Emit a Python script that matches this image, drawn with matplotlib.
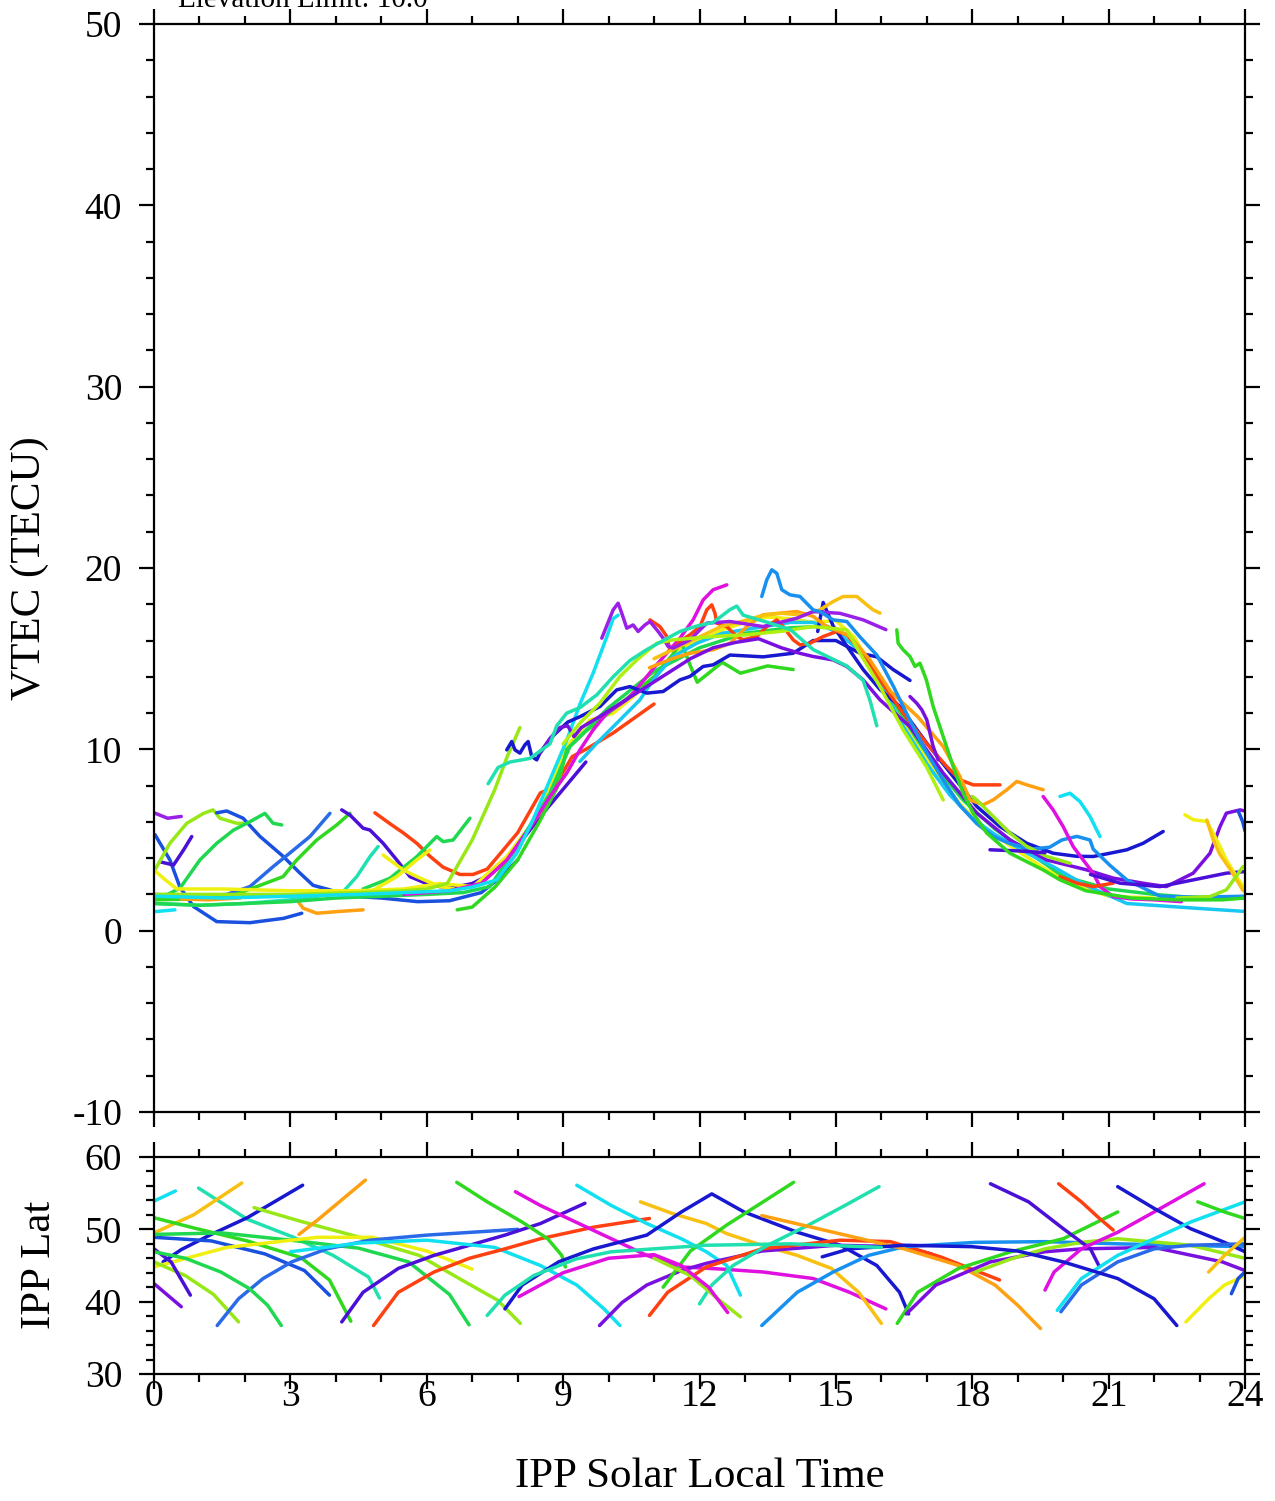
import matplotlib
matplotlib.use("Agg")
import matplotlib.pyplot as plt
from matplotlib.ticker import MultipleLocator

plt.rcParams['font.family'] = ['Liberation Serif', 'DejaVu Serif']
plt.rcParams['axes.unicode_minus'] = False

# ---------------- colours ----------------
DB = '#1818d0'; IND = '#4a10d8'; VIO = '#7a10e0'; PUR = '#9a20e8'; MAG = '#e010e0'
BLU = '#1a50e0'; BLU2 = '#2a6ae8'; AZ = '#1890f0'; CY = '#10e0f0'; CY2 = '#18c8f0'
AQ = '#20e0b0'; SG = '#20d850'; GR = '#30d820'; CH = '#98e818'; CH2 = '#b0f010'
YE = '#f0f010'; GO = '#f8c010'; OR = '#ffa010'; RO = '#ff4010'

# ---------------- labels ----------------
title_text = "Elevation Limit: 10.0"
vtec_label = "VTEC (TECU)"
lat_label = "IPP Lat"
x_label = "IPP Solar Local Time"
x_ticks = [0, 3, 6, 9, 12, 15, 18, 21, 24]
vtec_ticks = [-10, 0, 10, 20, 30, 40, 50]
lat_ticks = [30, 40, 50, 60]

# ---------------- VTEC tracks (hour, TECU) ----------------
t01_h = [0.0, 0.3, 0.6]; t01_v = [6.5, 6.2, 6.3]
t02_h = [0.02, 0.35, 0.57, 0.87, 1.38, 2.11, 2.85, 3.25]; t02_v = [5.3, 3.9, 2.4, 1.33, 0.5, 0.44, 0.68, 0.96]
t03_h = [0.13, 0.43, 0.65, 0.83]; t03_v = [3.8, 3.62, 4.45, 5.19]
t04_h = [0.02, 0.35, 0.72, 1.09, 1.3, 1.45, 1.82, 1.97]; t04_v = [3.35, 4.82, 5.92, 6.47, 6.66, 6.2, 5.92, 5.92]
t05_h = [1.38, 1.6, 1.96, 2.33, 2.84, 3.2, 3.5, 3.87, 4.3, 5.0, 5.8, 6.5, 7.2, 7.6, 8.0]
t05_v = [6.5, 6.6, 6.2, 5.2, 4.1, 3.2, 2.5, 2.25, 1.9, 1.8, 1.6, 1.65, 2.1, 2.9, 3.9]
t06_h = [0.0, 0.3, 0.57, 1.01, 1.38, 1.75, 2.11, 2.44, 2.62, 2.81]; t06_v = [1.9, 2.0, 2.34, 3.9, 4.82, 5.55, 6.01, 6.47, 5.92, 5.83]
t07_h = [0.0, 1.0, 1.6, 2.11, 2.62, 3.07, 3.43, 3.87]; t07_v = [2.0, 1.9, 2.0, 2.43, 3.53, 4.45, 5.19, 6.47]
t08_h = [0.0, 1.0, 1.8, 2.26, 2.84, 3.14, 3.58, 4.02, 4.31]; t08_v = [1.7, 1.75, 2.0, 2.43, 2.98, 3.9, 5.0, 5.83, 6.47]
t09_h = [4.13, 4.31, 4.6, 4.75, 5.04, 5.34, 5.63, 6.07, 6.51, 7.0, 7.4, 7.77, 8.1, 8.5, 9.0, 9.5]
t09_v = [6.66, 6.38, 5.65, 5.55, 4.82, 3.9, 2.98, 2.52, 2.34, 2.6, 3.1, 3.9, 5.0, 6.3, 7.8, 9.3]
t10_h = [4.86, 5.19, 5.48, 5.79, 6.07, 6.36, 6.73, 7.02, 7.33, 7.6, 8.0, 8.5, 8.8, 9.2, 9.5, 10.1, 11.0]
t10_v = [6.5, 5.9, 5.4, 4.8, 4.1, 3.5, 3.1, 3.1, 3.4, 4.2, 5.4, 7.6, 7.9, 9.6, 10.0, 10.9, 12.5]
t11_h = [0.0, 1.0, 2.0, 3.0, 3.6, 4.16, 4.46, 4.75, 4.93]; t11_v = [1.5, 1.4, 1.5, 1.7, 1.9, 2.15, 2.98, 4.08, 4.64]
t12_h = [4.6, 5.19, 5.78, 6.22, 6.36, 6.58, 6.95]; t12_v = [2.3, 2.89, 4.08, 5.19, 4.91, 5.0, 6.2]
t13_h = [0.02, 0.46]; t13_v = [1.05, 1.15]
t14_h = [3.17, 3.28, 3.58, 4.02, 4.6]; t14_v = [1.6, 1.24, 0.96, 1.05, 1.15]
t15_h = [0.6, 1.2, 1.9]; t15_v = [1.75, 1.7, 1.8]
t16_h = [0.02, 0.25, 0.5, 1.5, 3.0, 4.5, 5.5, 6.29, 7.02, 7.76, 8.49, 9.08, 9.59, 10.1, 10.54, 11.0, 11.5, 12.0,
         12.5, 13.0, 13.5, 14.0, 14.5, 15.0, 15.4, 15.8, 16.3, 16.8, 17.3, 17.8, 18.3, 19.0, 19.6, 20.3, 21.0, 22.0]
t16_v = [3.3, 2.8, 2.3, 2.3, 2.2, 2.2, 2.3, 2.6, 2.43, 4.09, 6.48, 10.16, 11.62, 11.99, 12.91, 14.0, 15.4, 16.0,
         16.6, 17.0, 17.3, 17.2, 17.0, 17.1, 16.2, 14.5, 12.5, 10.2, 8.3, 6.8, 5.6, 4.4, 3.4, 2.5, 1.9, 1.8]
t17_h = [5.04, 5.48, 5.78, 6.29, 6.6]; t17_v = [4.17, 3.35, 2.98, 2.43, 2.3]
t18_h = [4.8, 5.34, 5.78, 6.07]; t18_v = [2.2, 2.98, 3.9, 4.45]
t19_h = [0.0, 1.5, 3.0, 4.5, 5.5, 6.0, 6.45, 7.0, 7.5, 7.77, 8.05]; t19_v = [2.0, 2.0, 2.0, 2.1, 2.2, 2.3, 2.6, 5.0, 7.8, 9.6, 11.2]
t20_h = [6.67, 7.0, 7.5, 8.0, 8.5, 8.87, 9.08, 9.5, 10.0, 10.5, 11.0, 11.4, 11.6, 11.8, 11.95, 12.2, 12.5, 12.9, 13.5, 14.06]
t20_v = [1.15, 1.3, 2.4, 3.9, 6.1, 7.9, 10.0, 11.0, 12.0, 13.0, 14.0, 15.2, 15.9, 14.6, 13.7, 14.2, 14.8, 14.2, 14.6, 14.4]
t21_h = [0.0, 1.0, 2.0, 3.0, 4.0, 5.0, 6.0, 6.8, 7.39, 8.12, 8.71, 9.15, 10.0, 11.0, 12.0, 13.0, 14.0, 14.8, 15.3,
         15.8, 16.3, 16.8, 17.3, 17.8, 18.5, 19.3, 20.0, 21.0, 22.0, 23.0, 24.0]
t21_v = [1.5, 1.4, 1.5, 1.6, 1.8, 1.9, 2.0, 2.1, 2.43, 5.19, 7.58, 10.16, 12.3, 14.3, 15.6, 16.4, 16.7, 16.8, 16.2,
         14.6, 12.5, 10.5, 8.7, 7.2, 5.6, 4.2, 3.0, 2.3, 2.0, 1.8, 1.8]
t22_h = [5.5, 6.5, 7.2, 7.76, 8.34, 8.71, 9.08, 9.37, 9.66, 9.96, 10.4, 10.54, 11.0, 11.57, 11.86, 12.08, 12.3, 12.6]
t22_v = [2.0, 2.2, 2.6, 3.9, 5.93, 7.4, 8.69, 9.97, 11.07, 11.99, 12.73, 13.1, 14.5, 16.13, 17.14, 18.24, 18.8, 19.07]
t23_h = [0.0, 1.5, 3.0, 4.5, 5.5, 6.5, 7.0, 7.54, 7.98, 8.34, 8.71, 9.08, 9.37, 9.66, 9.96, 10.1, 10.21]
t23_v = [1.9, 1.8, 1.9, 2.0, 2.1, 2.2, 2.4, 2.8, 4.27, 6.12, 8.32, 10.5, 12.5, 14.2, 16.2, 17.2, 17.4]
t24_h = [9.37, 9.74, 10.25, 10.69, 10.98, 11.42, 11.94, 12.5, 13.0, 13.5, 14.0, 14.5, 15.0, 15.5, 16.0, 16.5, 17.0,
         17.5, 18.0, 18.5, 19.2, 19.8, 20.5, 21.4, 22.9, 24.0]
t24_v = [9.33, 10.34, 11.62, 12.73, 13.83, 15.12, 15.85, 16.4, 16.6, 16.8, 17.0, 17.0, 16.5, 15.5, 13.5, 11.2, 9.2,
         7.5, 6.2, 5.3, 4.3, 3.5, 2.5, 1.5, 1.24, 1.06]
t25_h = [7.76, 7.87, 7.94, 8.05, 8.16, 8.23, 8.31, 8.42, 8.49, 8.8, 9.1, 9.37, 9.81, 10.18, 10.47, 10.84, 11.2, 11.57,
         11.79, 12.08, 12.3, 12.67, 13.4, 14.06, 14.5, 15.0, 15.53, 15.9, 16.26, 16.63]
t25_v = [9.97, 10.43, 9.97, 9.79, 10.25, 10.43, 9.6, 9.42, 9.79, 10.8, 11.5, 11.8, 12.36, 13.28, 13.46, 13.1, 13.19, 13.83,
         14.02, 14.57, 14.66, 15.2, 15.1, 15.3, 16.0, 16.0, 15.3, 15.1, 14.4, 13.8]
t26_h = [14.6, 14.72, 14.94, 15.24, 15.6, 15.97, 16.41, 17.0, 17.58, 18.1, 18.61, 19.2, 19.78, 20.3, 20.66, 21.03, 21.4, 21.76, 22.2]
t26_v = [16.5, 18.1, 16.8, 15.7, 14.4, 13.3, 12.36, 10.34, 8.5, 6.85, 5.74, 4.82, 4.27, 4.1, 4.09, 4.27, 4.46, 4.82, 5.47]
t27_h = [10.91, 11.13, 11.28, 11.35, 11.42, 11.57, 11.79, 12.01, 12.16, 12.27, 12.34, 12.38, 12.6, 12.82, 12.96, 13.26,
         13.48, 13.7, 13.84, 14.06, 14.21, 14.43, 14.72, 15.02, 15.24, 15.53, 15.97, 16.48, 16.99, 17.44, 17.73, 18.02, 18.61]
t27_v = [17.14, 16.77, 16.22, 15.49, 15.49, 15.95, 16.32, 16.77, 17.69, 17.97, 17.51, 16.96, 16.77, 16.22, 16.04, 16.22,
         16.77, 17.14, 16.77, 16.04, 15.76, 15.85, 16.22, 16.5, 16.32, 15.49, 13.83, 11.99, 10.34, 9.05, 8.32, 8.04, 8.04]
t28_h = [10.9, 11.4, 11.79, 12.3, 12.67, 13.04, 13.4, 13.77, 14.14, 14.5, 14.8, 15.09, 15.31, 15.53, 15.75, 16.2, 16.8,
         17.36, 17.73, 17.95, 18.24, 18.46, 18.76, 18.98, 19.2, 19.56]
t28_v = [14.5, 15.0, 15.3, 15.49, 15.85, 16.77, 17.42, 17.51, 17.6, 17.33, 16.77, 16.5, 16.22, 15.58, 14.93, 13.2, 11.8,
         10.16, 8.5, 7.21, 6.94, 7.21, 7.77, 8.23, 8.04, 7.77]
t29_h = [11.0, 11.5, 12.0, 12.5, 13.0, 13.4, 13.8, 14.3, 14.65, 14.94, 15.16, 15.46, 15.68, 15.82, 15.97]
t29_v = [15.0, 15.6, 16.2, 16.8, 17.1, 17.4, 17.5, 17.4, 17.7, 18.15, 18.43, 18.43, 17.97, 17.69, 17.51]
t30_h = [9.85, 10.1, 10.21, 10.29, 10.4, 10.54, 10.65, 10.8, 10.91, 11.09, 11.2, 11.31, 11.42, 11.79, 12.16, 12.67,
         13.4, 14.14, 14.5, 15.09, 15.6, 16.1]
t30_v = [16.13, 17.69, 18.06, 17.51, 16.68, 16.86, 16.5, 16.86, 17.05, 16.5, 16.13, 15.67, 15.58, 16.04, 16.96, 17.05,
         16.77, 17.23, 17.6, 17.5, 17.14, 16.6]
t31_h = [8.49, 8.71, 8.93, 9.1, 9.24, 9.4, 9.8, 10.3, 10.8, 11.3, 11.8, 12.3, 12.8, 13.3, 13.8, 14.2, 14.5, 14.94, 15.24,
         15.6, 15.97, 16.63, 17.36, 18.1, 18.83, 19.64, 20.52, 21.1, 21.8, 22.27, 22.86, 23.23, 23.45, 23.59, 23.89, 24.0]
t31_v = [9.8, 10.6, 11.2, 11.3, 10.7, 11.2, 11.8, 12.6, 13.4, 14.2, 15.0, 15.6, 15.9, 16.1, 15.6, 15.3, 15.12, 14.93, 14.57,
         13.83, 12.73, 11.25, 8.69, 6.48, 5.0, 3.9, 3.35, 2.9, 2.6, 2.43, 3.17, 4.27, 5.74, 6.48, 6.66, 6.6]
t32_h = [13.37, 13.48, 13.59, 13.7, 13.81, 13.99, 14.21, 14.5, 14.65, 14.94, 15.24, 15.53, 15.9, 16.26, 16.63, 17.0,
         17.36, 17.73, 18.1, 18.46, 18.83, 19.3, 19.7, 19.97, 20.3, 20.59, 20.66, 21.03, 21.4, 22.13, 23.0, 24.0]
t32_v = [18.43, 19.35, 19.9, 19.71, 18.8, 18.52, 18.43, 17.69, 17.6, 17.14, 17.05, 16.2, 15.2, 13.5, 11.6, 9.8,
         8.3, 6.9, 5.9, 5.2, 4.8, 4.5, 4.6, 5.0, 5.2, 5.0, 4.5, 3.6, 2.8, 1.9, 1.85, 1.9]
t33_h = [9.0, 9.37, 9.81, 10.25, 10.62, 11.06, 11.42, 12.3, 13.04, 13.77, 14.5, 15.24, 15.53, 15.97, 16.48, 16.99, 17.36]
t33_v = [10.3, 11.45, 12.55, 14.02, 14.93, 15.85, 16.04, 16.22, 16.32, 16.5, 16.77, 16.59, 15.3, 13.46, 11.07, 9.05, 7.21]
t34_h = [18.0, 18.1, 18.46, 18.83, 19.2, 19.64, 20.15]; t34_v = [7.4, 7.21, 6.3, 5.38, 4.64, 4.09, 3.72]
t35_h = [7.35, 7.57, 7.83, 8.27, 8.71, 8.86, 9.08, 9.37, 9.74, 10.1, 10.47, 10.84, 11.2, 11.57, 11.94, 12.3, 12.67,
         12.82, 12.96, 13.5, 14.0, 14.5, 15.24, 15.6, 15.75, 15.9]
t35_v = [8.1, 9.0, 9.3, 9.5, 10.3, 11.3, 12.0, 12.3, 13.0, 14.0, 14.9, 15.5, 16.0, 16.5, 16.8, 17.0, 17.7,
         17.9, 17.4, 17.0, 16.6, 15.5, 14.6, 13.8, 12.7, 11.3]
t36_h = [19.56, 19.78, 20.0, 20.22, 20.44, 20.66, 20.81, 21.1, 21.5, 22.0, 22.6]
t36_v = [7.4, 6.66, 5.74, 4.64, 3.9, 3.17, 2.43, 1.88, 1.75, 1.7, 1.6]
t37_h = [19.93, 20.15, 20.37, 20.59, 20.81]; t37_v = [7.4, 7.58, 7.12, 6.3, 5.19]
t38_h = [19.93, 20.3, 20.66, 21.1]; t38_v = [2.98, 2.62, 2.43, 2.62]
t39_h = [20.6, 21.25, 22.13, 22.86, 23.59, 24.0]; t39_v = [3.1, 2.62, 2.43, 2.8, 3.17, 3.26]
t40_h = [22.68, 22.86, 23.16, 23.3, 23.45, 23.59, 23.81, 23.96]; t40_v = [6.39, 6.12, 6.02, 5.38, 4.64, 3.9, 2.99, 2.43]
t41_h = [23.16, 23.3, 23.45, 23.67, 23.96]; t41_v = [6.1, 5.0, 4.2, 3.4, 2.2]
t42_h = [22.5, 23.23, 23.59, 23.96]; t42_v = [1.8, 1.88, 2.25, 3.54]
t43_h = [23.85, 23.95, 24.0]; t43_v = [6.6, 6.0, 5.5]
t44_h = [18.39, 19.0, 19.6]; t44_v = [4.46, 4.4, 4.3]
t45_h = [16.63, 16.78, 16.89, 17.0, 17.14, 17.25]; t45_v = [12.91, 12.54, 12.18, 11.63, 10.16, 9.42]
t46_h = [16.34, 16.37, 16.48, 16.63, 16.74, 16.85, 16.99, 17.14, 17.36, 17.58, 17.8, 18.02, 18.32, 18.83, 19.56,
         19.93, 20.5, 21.5, 22.5, 23.5, 24.0]
t46_v = [16.59, 15.85, 15.49, 15.12, 14.57, 14.75, 13.83, 12.36, 10.71, 9.05, 7.58, 6.48, 5.38, 4.27, 3.35,
         2.8, 2.2, 1.8, 1.7, 1.7, 1.8]

vtec_tracks = [
    (t01_h, t01_v, PUR), (t02_h, t02_v, BLU), (t03_h, t03_v, IND), (t04_h, t04_v, CH),
    (t05_h, t05_v, BLU), (t06_h, t06_v, SG), (t07_h, t07_v, BLU2), (t08_h, t08_v, GR),
    (t09_h, t09_v, IND), (t10_h, t10_v, RO), (t11_h, t11_v, AQ), (t12_h, t12_v, SG),
    (t13_h, t13_v, CY), (t14_h, t14_v, OR), (t15_h, t15_v, OR), (t16_h, t16_v, YE),
    (t17_h, t17_v, YE), (t18_h, t18_v, YE), (t19_h, t19_v, CH), (t20_h, t20_v, GR),
    (t21_h, t21_v, SG), (t22_h, t22_v, MAG), (t23_h, t23_v, CY), (t24_h, t24_v, CY2),
    (t25_h, t25_v, DB), (t26_h, t26_v, DB), (t27_h, t27_v, RO), (t28_h, t28_v, OR),
    (t29_h, t29_v, GO), (t30_h, t30_v, PUR), (t31_h, t31_v, VIO), (t32_h, t32_v, AZ),
    (t33_h, t33_v, CH2), (t34_h, t34_v, CH), (t35_h, t35_v, AQ), (t36_h, t36_v, MAG),
    (t37_h, t37_v, CY), (t38_h, t38_v, RO), (t39_h, t39_v, IND), (t40_h, t40_v, YE),
    (t41_h, t41_v, GO), (t42_h, t42_v, CH), (t43_h, t43_v, BLU), (t44_h, t44_v, IND),
    (t45_h, t45_v, VIO), (t46_h, t46_v, GR),
]

# ---------------- IPP latitude tracks (hour, deg) ----------------
l01_h = [0, 0.47]; l01_l = [53.9, 55.3]
l02_h = [0.98, 2.05, 3.07, 3.94, 4.72, 4.96]; l02_l = [55.7, 51.4, 48.9, 46.4, 43.4, 40.5]
l03_h = [0, 0.87, 1.93]; l03_l = [49.5, 52.0, 56.4]
l04_h = [0.2, 0.6, 1.26, 2.05, 3.27]; l04_l = [45.5, 47.2, 49.3, 51.6, 56.1]
l05_h = [2.2, 3.23, 4.41, 5.83, 6.77, 7.56, 8.06]; l05_l = [53.0, 51.1, 49.1, 46.4, 43.0, 40.2, 37.0]
l06_h = [3.19, 3.62, 4.65]; l06_l = [49.3, 51.4, 56.8]
l07_h = [0, 0.87, 2.05, 3.23, 3.86, 4.33]; l07_l = [51.6, 50.2, 48.4, 46.1, 43.0, 37.3]
l08_h = [0, 1.26, 2.44, 3.31, 3.86]; l08_l = [48.9, 48.4, 46.6, 44.3, 40.9]
l09_h = [0, 1.5, 3.0, 4.5, 5.6, 6.5, 6.93]; l09_l = [49.3, 49.5, 48.5, 47.4, 45.5, 41.0, 36.8]
l10_h = [0, 1.6, 3.6, 4.8, 6.0, 7.0]; l10_l = [44.8, 47.5, 48.9, 48.9, 47.0, 44.5]
l11_h = [0, 0.69, 1.31, 1.86]; l11_l = [45.5, 43.6, 41.0, 37.2]
l12_h = [0, 0.375, 0.8]; l12_l = [47.3, 45.5, 40.9]
l13_h = [0, 0.3, 0.6]; l13_l = [42.5, 40.9, 39.3]
l14_h = [1.39, 1.86, 2.4, 3.03, 3.8, 4.75, 6.0, 8.0]; l14_l = [36.7, 40.4, 43.2, 45.5, 47.3, 48.5, 49.2, 50.0]
l15_h = [0, 0.69, 1.47, 2.1, 2.5, 2.8]; l15_l = [46.9, 46.0, 44.1, 41.8, 39.5, 36.7]
l16_h = [4.13, 4.6, 5.375, 6.16, 6.94, 7.72, 8.5, 9.48]; l16_l = [37.2, 41.3, 44.6, 46.4, 47.8, 49.2, 50.8, 53.6]
l17_h = [3.0, 4.5, 6.0, 7.5, 8.5, 9.3, 9.9, 10.25]; l17_l = [46.9, 48.1, 48.5, 47.5, 45.0, 42.3, 39.0, 36.7]
l18_h = [4.83, 5.375, 6.16, 6.94, 7.72, 8.5, 9.67, 10.9]; l18_l = [36.7, 41.3, 44.1, 46.0, 47.3, 48.7, 50.3, 51.5]
l19_h = [6.66, 7.33, 8.1, 8.66, 8.97, 9.05]; l19_l = [56.5, 53.8, 51.0, 48.7, 46.4, 44.8]
l20_h = [7.95, 8.5, 9.28, 10.06, 10.84, 11.6, 12.5, 13.4, 14.5, 15.3, 16.1]
l20_l = [55.2, 53.3, 51.0, 48.7, 46.4, 44.8, 44.5, 44.1, 43.2, 41.3, 39.0]
l21_h = [9.3, 10.06, 10.84, 11.6, 12.15, 12.6, 12.9]; l21_l = [56.1, 53.3, 50.8, 48.7, 46.9, 45.0, 40.9]
l22_h = [10.7, 11.4, 12.15, 12.6, 13.37, 14.15, 14.9, 15.5, 16.0]; l22_l = [53.8, 52.2, 50.8, 49.4, 47.8, 46.4, 44.6, 41.3, 37.0]
l23_h = [7.72, 8.1, 8.9, 9.67, 10.84, 11.6, 12.27, 12.98, 14.15, 15.1, 15.9, 16.4, 16.6]
l23_l = [39.0, 42.3, 45.5, 47.3, 49.2, 52.4, 54.9, 52.4, 49.6, 47.8, 45.0, 41.3, 38.3]
l24_h = [9.8, 10.3, 10.84, 11.6, 12.15, 13.37, 15.0, 16.5, 17.1]; l24_l = [36.7, 39.9, 42.3, 44.3, 45.3, 47.0, 47.8, 47.6, 46.6]
l25_h = [10.9, 11.3, 12.15, 13.37, 15.1, 16.2, 17.3, 18.6]; l25_l = [38.1, 41.3, 44.8, 47.3, 48.5, 48.3, 46.2, 43.0]
l26_h = [11.2, 11.8, 12.6, 13.4, 14.07]; l26_l = [42.0, 47.0, 50.6, 53.8, 56.5]
l27_h = [12.0, 12.27, 12.74, 13.5, 14.4, 15.2, 15.95]; l27_l = [39.7, 42.3, 45.0, 47.8, 50.6, 53.3, 55.9]
l28_h = [11.0, 11.8, 12.4, 12.9]; l28_l = [46.0, 43.6, 40.4, 37.9]
l29_h = [13.37, 14.15, 14.94, 15.72, 16.5, 18.07, 19.6, 21.2, 22.5, 24.0]; l29_l = [36.7, 41.3, 44.1, 46.4, 47.6, 48.2, 48.3, 48.0, 47.8, 47.6]
l30_h = [13.37, 14.94, 16.5, 17.7, 18.5, 19.0, 19.5]; l30_l = [51.9, 49.6, 47.3, 45.0, 42.3, 39.5, 36.3]
l31_h = [8.03, 9.0, 10.0, 11.0, 11.6, 12.2, 12.62]; l31_l = [40.7, 44.0, 46.0, 46.5, 45.0, 42.0, 38.5]
l32_h = [16.35, 16.8, 17.7, 18.85, 20.0, 21.2]; l32_l = [37.0, 41.3, 44.6, 46.9, 48.7, 52.4]
l33_h = [16.55, 17.2, 18.4, 19.6, 20.4, 22.0, 23.5, 24.0]; l33_l = [38.3, 42.3, 45.5, 46.9, 47.3, 47.5, 45.5, 44.3]
l34_h = [18.07, 18.85, 19.6, 20.4, 21.2, 22.8, 24.0]; l34_l = [44.1, 45.9, 47.3, 48.2, 48.7, 47.8, 46.0]
l35_h = [18.4, 19.24, 20.0, 20.6, 20.8]; l35_l = [56.3, 53.8, 50.1, 47.3, 44.8]
l36_h = [19.6, 19.8, 20.4, 21.2, 22.0, 23.1]; l36_l = [41.6, 44.1, 47.3, 49.6, 52.4, 56.3]
l37_h = [21.2, 22.0, 22.8, 23.55, 24.0]; l37_l = [55.9, 52.9, 50.1, 48.2, 46.9]
l38_h = [19.87, 20.4, 21.2, 22.0, 22.8, 24.0]; l38_l = [38.8, 43.2, 46.4, 48.7, 51.0, 53.8]
l39_h = [19.95, 20.4, 21.2, 22.0, 22.8, 24.0]; l39_l = [38.6, 42.3, 45.5, 47.3, 47.8, 48.0]
l40_h = [14.7, 15.3, 16.5, 18.0, 19.0, 20.0, 21.2, 22.0, 22.5]; l40_l = [46.2, 47.3, 47.8, 47.6, 47.0, 45.5, 43.2, 40.4, 36.7]
l41_h = [22.7, 23.2, 23.55, 24.0]; l41_l = [37.2, 40.4, 42.3, 43.6]
l42_h = [23.2, 23.55, 24.0]; l42_l = [44.1, 46.4, 48.9]
l43_h = [23.7, 23.85, 24.0]; l43_l = [41.1, 43.2, 44.1]
l44_h = [22.96, 23.55, 24.0]; l44_l = [53.8, 52.4, 51.5]
l45_h = [19.9, 20.4, 20.8, 21.1]; l45_l = [56.3, 53.8, 51.5, 49.9]
l46_h = [7.33, 7.72, 8.35, 9.28, 10.06, 12.15, 14.0, 16.0]; l46_l = [38.1, 40.9, 43.6, 45.9, 46.9, 47.8, 48.0, 47.5]

lat_tracks = [
    (l01_h, l01_l, CY), (l02_h, l02_l, AQ), (l03_h, l03_l, GO), (l04_h, l04_l, DB),
    (l05_h, l05_l, CH), (l06_h, l06_l, OR), (l07_h, l07_l, GR), (l08_h, l08_l, BLU),
    (l09_h, l09_l, SG), (l10_h, l10_l, YE), (l11_h, l11_l, CH), (l12_h, l12_l, IND),
    (l13_h, l13_l, VIO), (l14_h, l14_l, BLU2), (l15_h, l15_l, SG), (l16_h, l16_l, IND),
    (l17_h, l17_l, CY), (l18_h, l18_l, RO), (l19_h, l19_l, GR), (l20_h, l20_l, MAG),
    (l21_h, l21_l, CY), (l22_h, l22_l, GO), (l23_h, l23_l, DB), (l24_h, l24_l, VIO),
    (l25_h, l25_l, RO), (l26_h, l26_l, GR), (l27_h, l27_l, AQ), (l28_h, l28_l, CH),
    (l29_h, l29_l, AZ), (l30_h, l30_l, OR), (l31_h, l31_l, MAG), (l32_h, l32_l, GR),
    (l33_h, l33_l, VIO), (l34_h, l34_l, CH), (l35_h, l35_l, IND), (l36_h, l36_l, MAG),
    (l37_h, l37_l, DB), (l38_h, l38_l, CY), (l39_h, l39_l, BLU2), (l40_h, l40_l, DB),
    (l41_h, l41_l, YE), (l42_h, l42_l, GO), (l43_h, l43_l, BLU), (l44_h, l44_l, GR),
    (l45_h, l45_l, RO), (l46_h, l46_l, AQ),
]

# ---------------- figure ----------------
W, H = 1275, 1501
fig = plt.figure(figsize=(W / 100, H / 100), dpi=100)
ax1 = fig.add_axes([154 / W, 1 - 1112 / H, 1091 / W, 1088 / H])
ax2 = fig.add_axes([154 / W, 1 - 1374 / H, 1091 / W, 217 / H])

LW = 2.5
for h, v, c in vtec_tracks:
    ax1.plot(h, v, color=c, lw=LW, solid_capstyle='round', solid_joinstyle='round', clip_on=True)
for h, l, c in lat_tracks:
    ax2.plot(h, l, color=c, lw=LW, solid_capstyle='round', solid_joinstyle='round', clip_on=True)

TICK_FS = 27
for ax in (ax1, ax2):
    ax.set_xlim(0, 24)
    ax.set_xticks(x_ticks)
    ax.xaxis.set_minor_locator(MultipleLocator(1))
    ax.yaxis.set_minor_locator(MultipleLocator(2))
    ax.tick_params(which='both', direction='out', top=True, right=True, width=1.6, colors='black')
    ax.tick_params(which='major', length=11, pad=12, labelsize=TICK_FS)
    ax.tick_params(which='minor', length=6)
    for s in ax.spines.values():
        s.set_linewidth(1.6)

ax1.set_ylim(-10, 50)
ax1.set_yticks(vtec_ticks)
ax1.tick_params(labelbottom=False)

ax2.set_ylim(30, 60)
ax2.set_yticks(lat_ticks)
ax2.tick_params(axis='x', which='major', pad=-7)

fig.text(178 / W, 1 - 7 / H, title_text, fontsize=21, ha='left', va='baseline')
fig.text(30 / W, 1 - 568 / H, vtec_label, fontsize=31, rotation=90, ha='center', va='center')
fig.text(40 / W, 1 - 1265 / H, lat_label, fontsize=31, rotation=90, ha='center', va='center')
fig.text(700 / W, 1 - 1477 / H, x_label, fontsize=31, ha='center', va='center')

fig.savefig('out.png', dpi=100)
